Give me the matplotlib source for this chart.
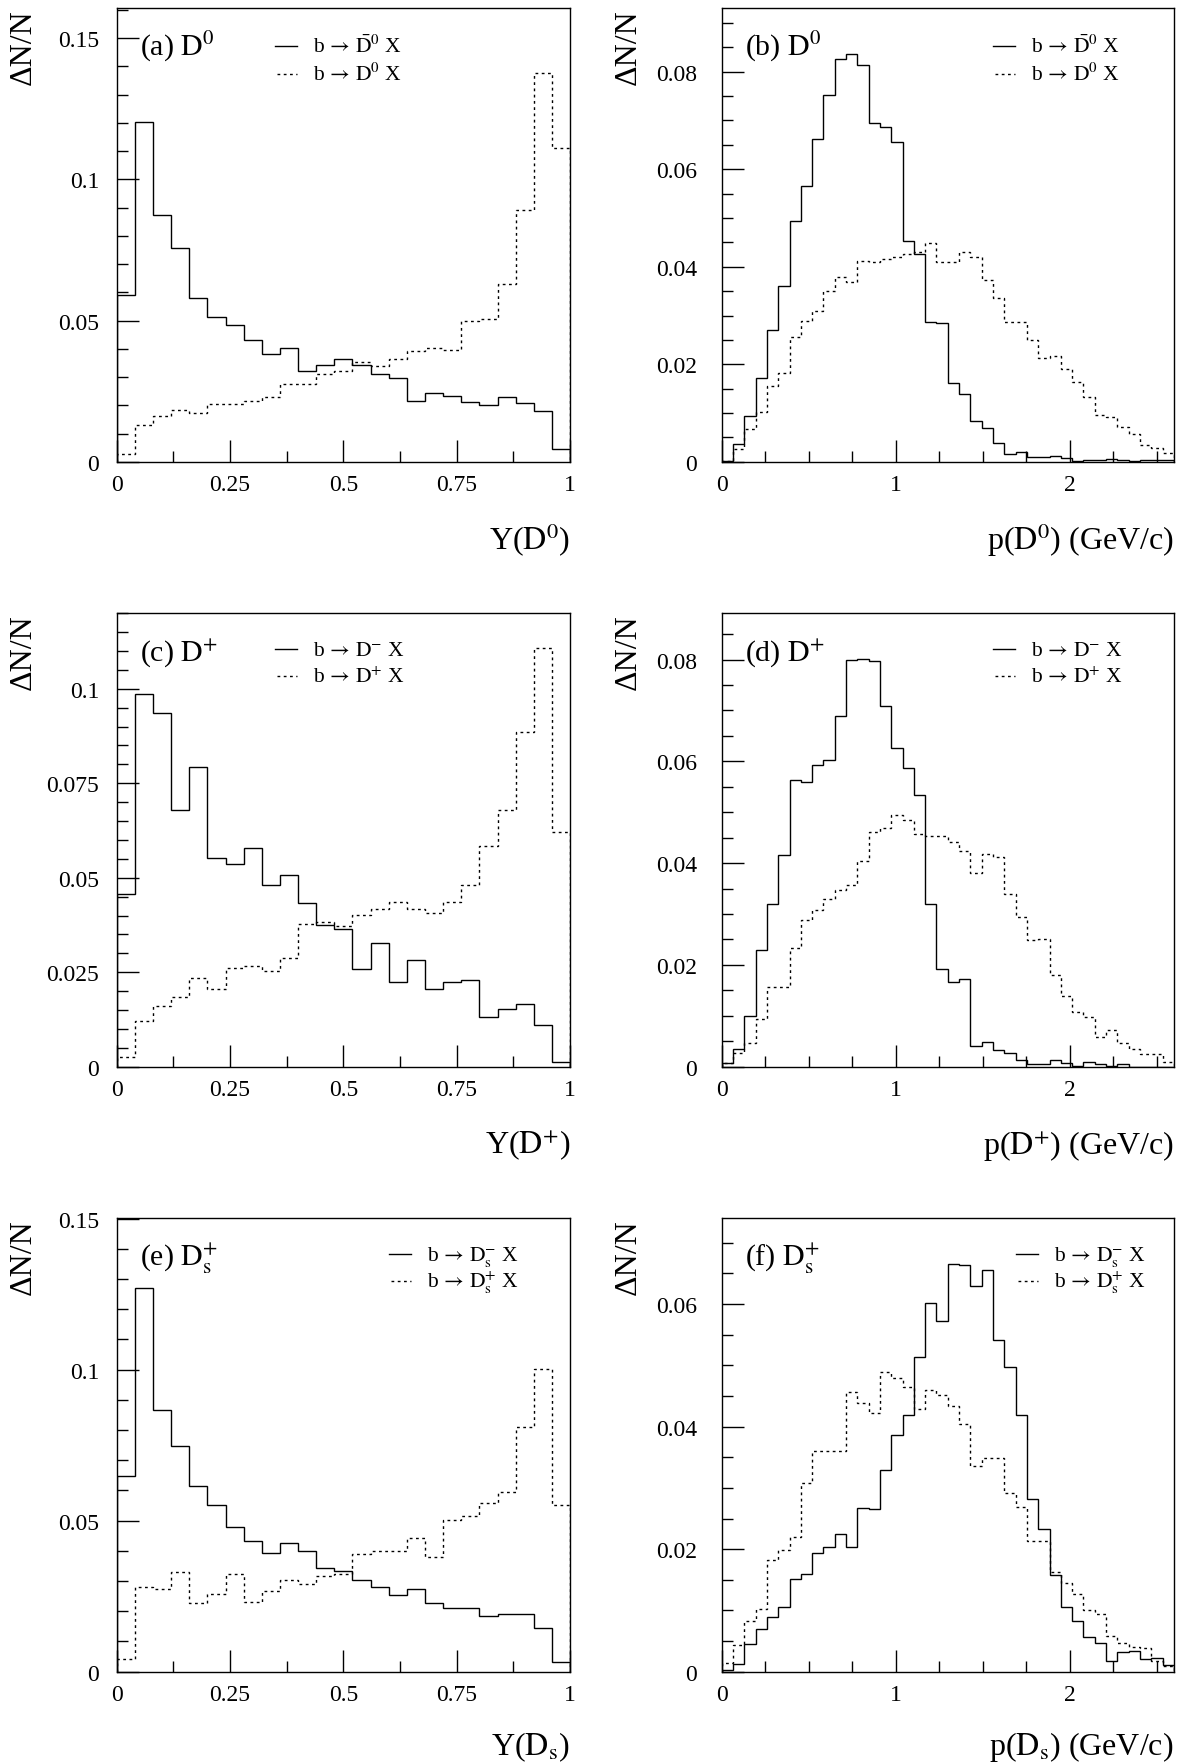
import numpy as np
import matplotlib
matplotlib.use('Agg')
import matplotlib.pyplot as plt
from matplotlib.ticker import MultipleLocator, FuncFormatter

plt.rcParams['font.family'] = ['Liberation Serif', 'DejaVu Serif']
plt.rcParams['mathtext.fontset'] = 'stix'

# bin edges: scaled energy Y and momentum p (GeV/c)
y_edges = np.linspace(0, 1, 26)
p_edges = np.linspace(0, 2.6, 41)

# (a) D0 vs Y
d0_y_solid = [0.0592, 0.1204, 0.0873, 0.0757, 0.0578, 0.0513, 0.0485, 0.0432, 0.0383, 0.0402,
              0.0322, 0.0341, 0.0364, 0.0344, 0.0309, 0.0297, 0.0215, 0.0242, 0.0232, 0.0212,
              0.0202, 0.0231, 0.0209, 0.0180, 0.0047]
d0_y_dotted = [0.0027, 0.0130, 0.0162, 0.0183, 0.0174, 0.0206, 0.0204, 0.0216, 0.0230, 0.0275,
               0.0277, 0.0310, 0.0320, 0.0354, 0.0340, 0.0365, 0.0393, 0.0403, 0.0395, 0.0499,
               0.0505, 0.0628, 0.0891, 0.1377, 0.1112]

# (b) D0 vs p
d0_p_solid = [0.0002, 0.0036, 0.0094, 0.0171, 0.0270, 0.0361, 0.0494, 0.0566, 0.0662, 0.0753,
              0.0826, 0.0836, 0.0814, 0.0694, 0.0686, 0.0655, 0.0452, 0.0427, 0.0286, 0.0284,
              0.0161, 0.0140, 0.0084, 0.0070, 0.0038, 0.0016, 0.0021, 0.0010, 0.0010, 0.0012,
              0.0007, 0.0002, 0.0003, 0.0003, 0.0005, 0.0003, 0.0001, 0.0003, 0.0003, 0.0003]
d0_p_dotted = [0.0002, 0.0026, 0.0067, 0.0103, 0.0156, 0.0183, 0.0255, 0.0289, 0.0310, 0.0351,
               0.0380, 0.0368, 0.0412, 0.0410, 0.0416, 0.0419, 0.0426, 0.0431, 0.0448, 0.0409,
               0.0409, 0.0431, 0.0419, 0.0373, 0.0335, 0.0286, 0.0286, 0.0250, 0.0213, 0.0217,
               0.0190, 0.0163, 0.0132, 0.0096, 0.0091, 0.0072, 0.0057, 0.0034, 0.0029, 0.0018]

# (c) D+ vs Y
dp_y_solid = [0.0456, 0.0985, 0.0936, 0.0680, 0.0793, 0.0551, 0.0536, 0.0579, 0.0482, 0.0506,
              0.0433, 0.0376, 0.0365, 0.0258, 0.0327, 0.0223, 0.0283, 0.0206, 0.0223, 0.0230,
              0.0132, 0.0152, 0.0166, 0.0109, 0.0013]
dp_y_dotted = [0.0025, 0.0122, 0.0161, 0.0184, 0.0234, 0.0206, 0.0261, 0.0267, 0.0254, 0.0288,
               0.0378, 0.0384, 0.0371, 0.0402, 0.0417, 0.0435, 0.0417, 0.0407, 0.0435, 0.0481,
               0.0583, 0.0680, 0.0885, 0.1108, 0.0622]

# (d) D+ vs p
dp_p_solid = [0.0007, 0.0035, 0.0099, 0.0229, 0.0319, 0.0416, 0.0563, 0.0559, 0.0593, 0.0602,
              0.0690, 0.0799, 0.0802, 0.0798, 0.0709, 0.0627, 0.0587, 0.0533, 0.0319, 0.0192,
              0.0166, 0.0172, 0.0040, 0.0048, 0.0033, 0.0026, 0.0014, 0.0005, 0.0005, 0.0014,
              0.0007, 0.0001, 0.0009, 0.0005, 0.0001, 0.0005, 0.0, 0.0, 0.0, 0.0]
dp_p_dotted = [0.0007, 0.0026, 0.0046, 0.0094, 0.0157, 0.0157, 0.0233, 0.0289, 0.0307, 0.0330,
               0.0348, 0.0356, 0.0405, 0.0461, 0.0469, 0.0494, 0.0484, 0.0457, 0.0454, 0.0454,
               0.0441, 0.0424, 0.0381, 0.0418, 0.0412, 0.0340, 0.0294, 0.0248, 0.0250, 0.0180,
               0.0138, 0.0108, 0.0098, 0.0059, 0.0072, 0.0046, 0.0035, 0.0025, 0.0025, 0.0009]

# (e) Ds vs Y
ds_y_solid = [0.0648, 0.1269, 0.0866, 0.0748, 0.0614, 0.0551, 0.0478, 0.0432, 0.0393, 0.0427,
              0.0401, 0.0344, 0.0333, 0.0305, 0.0280, 0.0253, 0.0274, 0.0226, 0.0212, 0.0212,
              0.0186, 0.0190, 0.0190, 0.0143, 0.0031]
ds_y_dotted = [0.0041, 0.0281, 0.0273, 0.0329, 0.0229, 0.0256, 0.0324, 0.0232, 0.0267, 0.0302,
               0.0291, 0.0316, 0.0322, 0.0388, 0.0401, 0.0399, 0.0443, 0.0380, 0.0503, 0.0514,
               0.0558, 0.0595, 0.0811, 0.1003, 0.0551]

# (f) Ds vs p
ds_p_solid = [0.0002, 0.0013, 0.0045, 0.0070, 0.0089, 0.0105, 0.0152, 0.0160, 0.0194, 0.0203,
              0.0225, 0.0203, 0.0267, 0.0266, 0.0329, 0.0386, 0.0419, 0.0514, 0.0602, 0.0573,
              0.0666, 0.0664, 0.0629, 0.0655, 0.0542, 0.0498, 0.0419, 0.0282, 0.0233, 0.0157,
              0.0105, 0.0083, 0.0057, 0.0047, 0.0018, 0.0032, 0.0034, 0.0021, 0.0023, 0.0011]
ds_p_dotted = [0.0014, 0.0043, 0.0082, 0.0102, 0.0182, 0.0199, 0.0220, 0.0308, 0.0360, 0.0360,
               0.0360, 0.0456, 0.0438, 0.0423, 0.0489, 0.0479, 0.0465, 0.0428, 0.0459, 0.0451,
               0.0433, 0.0404, 0.0336, 0.0348, 0.0348, 0.0292, 0.0268, 0.0213, 0.0213, 0.0162,
               0.0145, 0.0127, 0.0100, 0.0094, 0.0058, 0.0047, 0.0041, 0.0039, 0.0017, 0.0010]

tags = [r'(a) $\mathrm{D}^{0}$', r'(b) $\mathrm{D}^{0}$', r'(c) $\mathrm{D}^{+}$',
        r'(d) $\mathrm{D}^{+}$', r'(e) $\mathrm{D}_\mathrm{s}^{+}$', r'(f) $\mathrm{D}_\mathrm{s}^{+}$']
xlabels = [r'Y($\mathrm{D}^{0}$)', r'p($\mathrm{D}^{0}$) (GeV/c)',
           r'Y($\mathrm{D}^{+}$)', r'p($\mathrm{D}^{+}$) (GeV/c)',
           r'Y($\mathrm{D}_\mathrm{s}$)', r'p($\mathrm{D}_\mathrm{s}$) (GeV/c)']
leg_solid = [r'b$\,\rightarrow\,\bar{\mathrm{D}}^{0}$ X', r'b$\,\rightarrow\,\mathrm{D}^{-}$ X',
             r'b$\,\rightarrow\,\mathrm{D}_\mathrm{s}^{-}$ X']
leg_dotted = [r'b$\,\rightarrow\,\mathrm{D}^{0}$ X', r'b$\,\rightarrow\,\mathrm{D}^{+}$ X',
              r'b$\,\rightarrow\,\mathrm{D}_\mathrm{s}^{+}$ X']
y_max = [0.1605, 0.093, 0.120, 0.0891, 0.1501, 0.074]
y_major = [0.05, 0.02, 0.025, 0.02, 0.05, 0.02]
y_minor = [0.01, 0.005, 0.005, 0.005, 0.01, 0.005]

DOTS = (0, (2, 2.5))


def draw_panel(ax, i, edges, solid, dotted):
    ax.stairs(solid, edges, baseline=0, color='black', lw=1.0)
    ax.stairs(dotted, edges, baseline=0, color='black', lw=1.0, ls=DOTS)

    right = i % 2 == 1
    row = i // 2
    ax.set_xlim(edges[0], edges[-1])
    ax.set_ylim(0, y_max[i])
    if right:
        ax.xaxis.set_major_locator(MultipleLocator(1))
        ax.xaxis.set_minor_locator(MultipleLocator(0.25))
    else:
        ax.xaxis.set_major_locator(MultipleLocator(0.25))
        ax.xaxis.set_minor_locator(MultipleLocator(0.125))
    ax.yaxis.set_major_locator(MultipleLocator(y_major[i]))
    ax.yaxis.set_minor_locator(MultipleLocator(y_minor[i]))
    fmt = FuncFormatter(lambda v, pos: '%g' % round(v, 6))
    ax.xaxis.set_major_formatter(fmt)
    ax.yaxis.set_major_formatter(fmt)

    ax.tick_params(which='both', direction='in', top=False, right=False, width=1.0, labelsize=17)
    ax.tick_params(which='major', length=16)
    ax.tick_params(which='minor', length=8)
    ax.tick_params(axis='x', pad=9)
    ax.tick_params(axis='y', pad=17.5 if right else 12.5)
    for s in ax.spines.values():
        s.set_linewidth(1.0)

    ax.text(-0.206, 1.0, 'ΔN/N', rotation=90, ha='center', va='top',
            fontsize=23, transform=ax.transAxes)
    ax.text(1.0, -0.182 if row == 2 else -0.192, xlabels[i], ha='right', va='baseline',
            fontsize=23, transform=ax.transAxes)
    ax.text(0.051, 0.897, tags[i], ha='left', va='baseline',
            fontsize=21.5, transform=ax.transAxes)

    # hand-made legend, ROOT style
    if i == 0:
        lx, ly = 0.349, (0.9175, 0.855)
    elif i == 1:
        lx, ly = 0.600, (0.9175, 0.855)
    elif i == 2:
        lx, ly = 0.349, (0.921, 0.862)
    elif i == 3:
        lx, ly = 0.600, (0.921, 0.862)
    elif i == 4:
        lx, ly = 0.601, (0.921, 0.861)
    else:
        lx, ly = 0.651, (0.921, 0.861)
    ax.plot([lx, lx + 0.049], [ly[0], ly[0]], color='black', lw=1.0, transform=ax.transAxes)
    ax.plot([lx + 0.004, lx + 0.049], [ly[1], ly[1]], color='black', lw=1.0, ls=DOTS,
            transform=ax.transAxes)
    ax.text(lx + 0.084, ly[0] - 0.013, leg_solid[row], fontsize=15.5, va='baseline',
            transform=ax.transAxes)
    ax.text(lx + 0.084, ly[1] - 0.013, leg_dotted[row], fontsize=15.5, va='baseline',
            transform=ax.transAxes)


fig = plt.figure(figsize=(11.79, 17.65), dpi=100)
lefts = [0.0990, 0.6121]
widths = [0.3845, 0.3836]
bottoms = [0.7378, 0.3951, 0.0523]
height = 0.2569

hists = [(y_edges, d0_y_solid, d0_y_dotted), (p_edges, d0_p_solid, d0_p_dotted),
         (y_edges, dp_y_solid, dp_y_dotted), (p_edges, dp_p_solid, dp_p_dotted),
         (y_edges, ds_y_solid, ds_y_dotted), (p_edges, ds_p_solid, ds_p_dotted)]

for i, (edges, solid, dotted) in enumerate(hists):
    ax = fig.add_axes([lefts[i % 2], bottoms[i // 2], widths[i % 2], height])
    draw_panel(ax, i, edges, solid, dotted)

fig.savefig('out.png', dpi=100)
